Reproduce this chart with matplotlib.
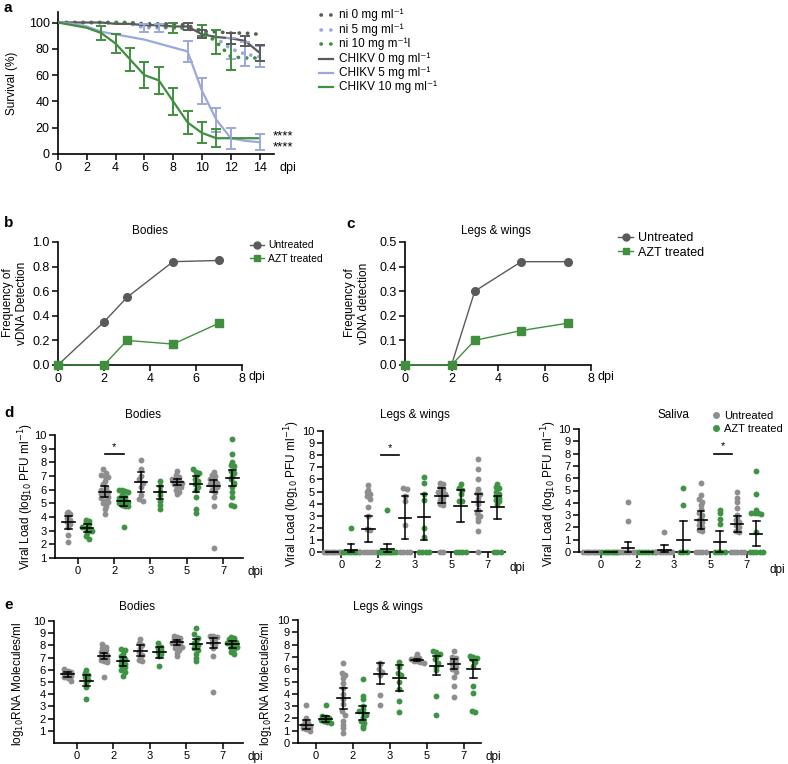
import numpy as np
import matplotlib.pyplot as plt
from matplotlib.lines import Line2D

plt.rcParams['font.family'] = ['Liberation Sans', 'DejaVu Sans']
plt.rcParams['font.size'] = 8

# colours
DARK = '#5a5a5a'
BLUE = '#9ca8dc'
GREEN = '#3f8f3f'
DOT_GRAY = '#8e8e8e'
DOT_GREEN = '#3f9443'

# ---------------- panel a : survival ----------------
days_a = [0, 1, 2, 3, 4, 5, 6, 7, 8, 9, 10, 11, 12, 13, 14]
ni0 = [100, 100, 100, 100, 100, 100, 99, 99, 99, 98, 93, 93, 92, 92, 91]
ni5 = [100, 100, 100, 100, 100, 99, 96, 96, 96, 95, 93, 88, 80, 76, 74]
ni10 = [100, 100, 100, 100, 100, 100, 98, 97, 96, 96, 94, 85, 74, 73, 73]
chikv0 = [100, 100, 100, 100, 99, 99, 98, 98, 97, 97, 91, 89, 88, 86, 77]
chikv5 = [100, 99, 97, 93, 91, 89, 87, 84, 81, 78, 48, 26, 12, 10, 9]
chikv10 = [100, 98, 96, 92, 84, 72, 60, 56, 40, 24, 16, 12, 12, 12, 12]
err_ni0 = [0] * 15
err_ni5 = [0, 0, 0, 0, 0, 0, 3, 3, 0, 0, 0, 0, 8, 9, 8]
err_ni10 = [0, 0, 0, 0, 0, 0, 0, 0, 4, 0, 4, 9, 10, 0, 0]
err_chikv0 = [0, 0, 0, 0, 0, 0, 0, 0, 0, 3, 3, 0, 4, 4, 6]
err_chikv5 = [0, 0, 0, 0, 0, 0, 0, 0, 0, 8, 10, 9, 8, 0, 6]
err_chikv10 = [0, 0, 0, 5, 7, 9, 10, 10, 10, 9, 8, 7, 0, 0, 0]

# ---------------- panels b, c : vDNA frequency ----------------
days_bc = [0, 2, 3, 5, 7]
b_untreated = [0, 0.35, 0.55, 0.84, 0.85]
b_azt = [0, 0, 0.20, 0.17, 0.34]
c_untreated = [0, 0, 0.30, 0.42, 0.42]
c_azt = [0, 0, 0.10, 0.14, 0.17]

# ---------------- panel d : viral load ----------------
dpi_labels = ['0', '2', '3', '5', '7']

d_bodies_un = [
    [4.4, 4.3, 4.2, 3.9, 3.8, 3.6, 3.5, 3.3, 2.7, 2.2],
    [7.5, 7.2, 7.1, 7.0, 6.9, 6.6, 6.4, 6.2, 6.0, 5.9, 5.8, 5.7, 5.6, 5.5, 5.4, 5.2, 5.1, 5.0, 4.8, 4.6, 4.2],
    [8.2, 7.5, 7.0, 6.8, 6.5, 6.2, 5.6, 5.3, 5.2],
    [7.4, 7.1, 6.9, 6.8, 6.7, 6.6, 6.5, 6.4, 6.3, 6.2, 6.0, 5.8, 5.7],
    [7.3, 7.1, 7.0, 6.8, 6.7, 6.5, 6.4, 6.3, 6.2, 6.0, 5.8, 5.5, 4.8, 1.7]]
d_bodies_azt = [
    [3.8, 3.7, 3.6, 3.5, 3.3, 3.2, 3.1, 3.0, 2.8, 2.6, 2.4],
    [6.0, 6.0, 5.9, 5.8, 5.6, 5.5, 5.4, 5.3, 5.2, 5.1, 5.0, 4.9, 4.8, 4.8, 3.3],
    [6.6, 6.3, 5.9, 5.6, 5.2, 4.9, 4.6],
    [7.5, 7.3, 7.2, 7.0, 6.8, 6.6, 6.4, 6.2, 6.0, 5.5, 4.6, 4.3],
    [9.7, 8.6, 8.0, 7.8, 7.7, 7.4, 7.2, 7.0, 6.8, 6.5, 6.2, 5.8, 5.5, 4.9, 4.8]]
d_bodies_mean_un = [3.6, 5.85, 6.55, 6.55, 6.25]
d_bodies_err_un = [0.45, 0.4, 0.75, 0.2, 0.45]
d_bodies_mean_azt = [3.2, 5.15, 5.8, 6.4, 6.85]
d_bodies_err_azt = [0.3, 0.35, 0.45, 0.6, 0.6]

d_legs_un = [
    [0, 0, 0, 0, 0, 0, 0, 0],
    [5.5, 5.1, 5.0, 4.8, 4.6, 4.4, 3.7, 3.0, 1.9, 1.8, 0, 0, 0, 0, 0, 0],
    [5.3, 5.2, 4.6, 4.2, 2.2, 0, 0, 0, 0],
    [5.7, 5.6, 5.4, 5.2, 5.0, 4.9, 4.8, 4.7, 4.5, 4.3, 4.1, 4.0, 3.9, 0, 0],
    [7.7, 6.9, 6.0, 5.2, 4.9, 4.8, 4.5, 4.2, 4.0, 3.5, 3.2, 3.0, 2.8, 2.6, 1.7, 0]]
d_legs_azt = [
    [2.0, 0, 0, 0, 0, 0, 0, 0],
    [3.5, 0, 0, 0, 0, 0, 0, 0, 0, 0],
    [6.2, 5.7, 4.8, 4.3, 2.0, 1.2, 0, 0, 0, 0],
    [5.6, 5.3, 5.1, 4.8, 4.2, 4.2, 0, 0, 0, 0],
    [5.6, 5.4, 5.3, 5.0, 4.8, 4.6, 4.5, 4.3, 4.2, 4.0, 0, 0, 0]]
d_legs_mean_un = [0, 1.9, 2.85, 4.65, 4.1]
d_legs_err_un = [0, 1.05, 1.75, 0.6, 0.7]
d_legs_mean_azt = [0.2, 0.25, 2.9, 3.8, 3.7]
d_legs_err_azt = [0.45, 0.45, 1.9, 1.3, 0.95]

d_sal_un = [
    [0, 0, 0, 0, 0, 0, 0, 0],
    [4.1, 2.5, 0, 0, 0, 0, 0, 0],
    [1.65, 0, 0, 0, 0, 0, 0],
    [5.6, 4.6, 4.3, 4.1, 3.8, 3.5, 3.2, 3.0, 2.8, 2.6, 2.4, 2.2, 2.0, 1.8, 1.7, 0, 0, 0, 0],
    [4.9, 4.4, 4.1, 3.6, 3.0, 2.8, 2.6, 2.4, 2.2, 2.0, 1.7, 1.6, 0, 0, 0, 0, 0]]
d_sal_azt = [
    [0, 0, 0, 0, 0, 0, 0, 0],
    [0, 0, 0, 0, 0, 0],
    [5.2, 3.8, 0, 0, 0],
    [3.4, 3.2, 2.7, 2.3, 0, 0, 0, 0],
    [6.6, 4.7, 3.4, 3.2, 3.2, 3.2, 3.1, 1.6, 0, 0, 0, 0, 0]]
d_sal_mean_un = [0, 0.35, 0.2, 2.6, 2.25]
d_sal_err_un = [0, 0.5, 0.4, 0.7, 0.65]
d_sal_mean_azt = [0, 0, 1.0, 0.85, 1.5]
d_sal_err_azt = [0, 0, 1.5, 0.85, 1.0]

# ---------------- panel e : RNA ----------------
e_bodies_un = [
    [6.1, 5.9, 5.8, 5.7, 5.6, 5.5, 5.4, 5.3, 5.1],
    [8.1, 7.9, 7.8, 7.6, 7.5, 7.3, 7.2, 7.1, 7.0, 6.9, 6.8, 6.7, 6.6, 5.4],
    [8.5, 8.2, 8.0, 7.8, 7.5, 7.2, 7.0, 6.8, 6.7],
    [8.8, 8.7, 8.6, 8.5, 8.4, 8.3, 8.2, 8.1, 8.0, 7.9, 7.8, 7.6, 7.4, 7.1],
    [8.8, 8.8, 8.7, 8.5, 8.3, 8.2, 8.0, 7.8, 7.1, 4.2]]
e_bodies_azt = [
    [6.0, 5.7, 5.6, 5.4, 5.2, 4.9, 4.6, 3.6],
    [7.7, 7.6, 7.3, 7.1, 6.9, 6.7, 6.5, 6.4, 6.2, 6.0, 5.8, 5.5],
    [8.2, 7.9, 7.8, 7.6, 7.5, 7.3, 7.1, 6.3],
    [9.4, 8.9, 8.6, 8.4, 8.2, 8.0, 7.8, 7.6, 7.3, 7.0, 6.7],
    [8.7, 8.6, 8.5, 8.4, 8.3, 8.2, 8.1, 8.0, 7.9, 7.8, 7.7, 7.5, 7.3]]
e_bodies_mean_un = [5.65, 7.15, 7.55, 8.25, 8.2]
e_bodies_err_un = [0.2, 0.25, 0.45, 0.2, 0.4]
e_bodies_mean_azt = [5.1, 6.7, 7.45, 8.1, 8.1]
e_bodies_err_azt = [0.45, 0.35, 0.45, 0.4, 0.3]

e_legs_un = [
    [3.1, 2.0, 1.8, 1.6, 1.5, 1.4, 1.3, 1.2, 1.1, 1.0],
    [6.5, 5.7, 5.5, 5.3, 4.9, 4.5, 4.0, 3.6, 3.2, 2.6, 2.3, 1.8, 1.5, 1.2, 0.8],
    [6.5, 6.4, 6.0, 5.8, 5.5, 3.9, 3.1],
    [7.2, 7.0, 6.9, 6.8, 6.7, 6.7, 6.6, 6.5],
    [7.5, 7.0, 6.9, 6.7, 6.5, 6.4, 6.2, 6.0, 5.8, 5.4, 4.6, 3.7]]
e_legs_azt = [
    [3.1, 2.2, 2.1, 2.0, 1.9, 1.8, 1.7, 1.6],
    [5.2, 3.8, 3.6, 3.0, 2.8, 2.6, 2.5, 2.3, 2.1, 1.8, 1.6, 1.4, 1.2],
    [6.6, 6.2, 5.7, 5.5, 5.0, 4.4, 3.4, 2.5],
    [7.5, 7.4, 7.2, 7.0, 6.8, 6.5, 6.2, 5.9, 3.8, 2.3],
    [7.1, 7.0, 6.9, 6.8, 6.6, 6.3, 4.6, 4.1, 2.6, 2.5]]
e_legs_mean_un = [1.5, 3.65, 5.65, 6.75, 6.4]
e_legs_err_un = [0.4, 0.85, 0.85, 0.1, 0.4]
e_legs_mean_azt = [1.95, 2.45, 5.3, 6.3, 6.0]
e_legs_err_azt = [0.25, 0.55, 1.05, 0.8, 0.75]

# ---------------- figure helpers ----------------
W, H = 788, 764
fig = plt.figure(figsize=(W / 100, H / 100), dpi=100)


def add_ax(l, t, r, b, fs=8.5):
    ax = fig.add_axes([l / W, 1 - b / H, (r - l) / W, (b - t) / H])
    for s in ['top', 'right']:
        ax.spines[s].set_visible(False)
    for s in ['left', 'bottom']:
        ax.spines[s].set_linewidth(1.2)
    ax.tick_params(width=1.1, length=4, labelsize=fs, pad=2)
    return ax


def ftext(x, y, s, **kw):
    fig.text(x / W, 1 - y / H, s, **kw)


def fline(x0, x1, y, **kw):
    fig.add_artist(Line2D([x0 / W, x1 / W], [1 - y / H, 1 - y / H], transform=fig.transFigure, **kw))


def swarm(vals, center, dx=0.09, ybin=0.35, wmax=0.22):
    # simple deterministic beeswarm offsets
    vals = np.asarray(vals, dtype=float)
    xs = np.full(len(vals), center, dtype=float)
    keys = np.round(vals / ybin)
    for k in np.unique(keys):
        idx = np.where(keys == k)[0]
        n = len(idx)
        if n > 1:
            w = min((n - 1) * dx / 2, wmax)
            xs[idx] = center + np.linspace(-w, w, n)
    return xs, vals


def dot_panel(ax, un, azt, m_un, e_un, m_azt, e_azt, off=0.26):
    for i in range(5):
        for vals, c, sgn in [(un[i], DOT_GRAY, -1), (azt[i], DOT_GREEN, 1)]:
            xs, ys = swarm(vals, i + sgn * off)
            ax.scatter(xs, ys, s=18, color=c, lw=0, zorder=3, clip_on=False)
        for m, e, sgn in [(m_un[i], e_un[i], -1), (m_azt[i], e_azt[i], 1)]:
            x0 = i + sgn * off
            ax.plot([x0 - 0.17, x0 + 0.17], [m, m], color='black', lw=1.2, zorder=4, clip_on=False)
            if e > 0:
                lo, hi = max(m - e, 0), m + e
                ax.plot([x0, x0], [lo, hi], color='black', lw=1.1, zorder=4, clip_on=False)
                for yy in (lo, hi):
                    ax.plot([x0 - 0.09, x0 + 0.09], [yy, yy], color='black', lw=1.1, zorder=4, clip_on=False)
    ax.set_xticks(range(5))
    ax.set_xticklabels(dpi_labels)
    ax.tick_params(labelsize=8)


# ---------------- a ----------------
ax = add_ax(58, 12, 274, 154, fs=9)
dotted = (0, (0.1, 2.2))
for vals, err, c in [(ni0, err_ni0, DARK), (ni5, err_ni5, BLUE), (ni10, err_ni10, GREEN)]:
    ax.plot(days_a, vals, color=c, lw=2.6, ls=dotted, dash_capstyle='round', zorder=2)
for vals, err, c in [(chikv0, err_chikv0, DARK), (chikv5, err_chikv5, BLUE), (chikv10, err_chikv10, GREEN)]:
    ax.plot(days_a, vals, color=c, lw=1.6, zorder=3)
for vals, err, c in [(ni5, err_ni5, BLUE), (ni10, err_ni10, GREEN), (chikv0, err_chikv0, DARK),
                     (chikv5, err_chikv5, BLUE), (chikv10, err_chikv10, GREEN)]:
    d = np.array(days_a)
    v = np.array(vals)
    e = np.array(err)
    m = e > 0
    ax.errorbar(d[m], v[m], yerr=e[m], fmt='none', ecolor=c, elinewidth=1.4, capsize=3.5, capthick=1.4, zorder=3)
ax.set_xlim(0, 15)
ax.set_ylim(0, 108)
ax.set_xticks([0, 2, 4, 6, 8, 10, 12, 14])
ax.set_yticks([0, 20, 40, 60, 80, 100])
ftext(12, 83, 'Survival (%)', rotation=90, ha='center', va='center', fontsize=8.5)
ftext(279, 168, 'dpi', fontsize=9, va='center')
ftext(273, 142, '****\n****', fontsize=9.5, va='center', linespacing=0.85)

# legend of a, drawn row by row
leg_colors = [DARK, BLUE, GREEN, DARK, BLUE, GREEN]
leg_labels = ['ni 0 mg ml⁻¹', 'ni 5 mg ml⁻¹', 'ni 10 mg m⁻¹l',
              'CHIKV 0 mg ml⁻¹', 'CHIKV 5 mg ml⁻¹', 'CHIKV 10 mg ml⁻¹']
leg_rows = [15, 30, 44, 59, 73, 87]
for k in range(6):
    y = leg_rows[k]
    if k < 3:
        fline(321, 331, y, color=leg_colors[k], lw=2.6, ls=(0, (0.1, 2.6)), dash_capstyle='round')
    else:
        fline(319, 333, y, color=leg_colors[k], lw=1.6)
    ftext(339, y, leg_labels[k], fontsize=8.5, va='center')

# ---------------- b ----------------
ax = add_ax(58, 242, 242, 365, fs=9)
ax.plot(days_bc, b_untreated, '-o', color=DARK, ms=5.5, lw=1, clip_on=False, zorder=3)
ax.plot(days_bc, b_azt, '-s', color=GREEN, ms=5.5, lw=1, clip_on=False, zorder=3)
ax.set_xlim(0, 8)
ax.set_ylim(0, 1.0)
ax.set_xticks([0, 2, 4, 6, 8])
ax.set_yticks([0, 0.2, 0.4, 0.6, 0.8, 1.0])
ax.set_yticklabels(['0.0', '0.2', '0.4', '0.6', '0.8', '1.0'])
ftext(150, 231, 'Bodies', ha='center', va='center', fontsize=8.5)
ftext(15, 303, 'Frequency of\nvDNA Detection', rotation=90, ha='center', va='center', fontsize=8.5)
ftext(249, 377, 'dpi', fontsize=9, va='center')
fig.legend([Line2D([], [], color=DARK, marker='o', ms=5, lw=1),
            Line2D([], [], color=GREEN, marker='s', ms=5, lw=1)],
           ['Untreated', 'AZT treated'], loc='upper left', bbox_to_anchor=(245 / W, 1 - 235 / H),
           frameon=False, fontsize=7.5, handlelength=1.3, handletextpad=0.4, labelspacing=0.35, borderpad=0)

# ---------------- c ----------------
ax = add_ax(405, 242, 591, 365, fs=9)
ax.plot(days_bc, c_untreated, '-o', color=DARK, ms=5.5, lw=1, clip_on=False, zorder=3)
ax.plot(days_bc, c_azt, '-s', color=GREEN, ms=5.5, lw=1, clip_on=False, zorder=3)
ax.set_xlim(0, 8)
ax.set_ylim(0, 0.5)
ax.set_xticks([0, 2, 4, 6, 8])
ax.set_yticks([0, 0.1, 0.2, 0.3, 0.4, 0.5])
ax.set_yticklabels(['0.0', '0.1', '0.2', '0.3', '0.4', '0.5'])
ftext(496, 231, 'Legs & wings', ha='center', va='center', fontsize=8.5)
ftext(357, 303, 'Frequency of\nvDNA detection', rotation=90, ha='center', va='center', fontsize=8.5)
ftext(597, 377, 'dpi', fontsize=9, va='center')
fig.legend([Line2D([], [], color=DARK, marker='o', ms=5, lw=1),
            Line2D([], [], color=GREEN, marker='s', ms=5, lw=1)],
           ['Untreated', 'AZT treated'], loc='upper left', bbox_to_anchor=(612 / W, 1 - 226 / H),
           frameon=False, fontsize=9, handlelength=1.2, handletextpad=0.4, labelspacing=0.2, borderpad=0)

# ---------------- d ----------------
ylab_d = 'Viral Load (log$_{10}$ PFU ml$^{-1}$)'

ax = add_ax(55, 435, 243, 558)
dot_panel(ax, d_bodies_un, d_bodies_azt, d_bodies_mean_un, d_bodies_err_un,
          d_bodies_mean_azt, d_bodies_err_azt)
ax.set_xlim(-0.63, 4.55)
ax.set_ylim(1, 10)
ax.set_yticks(range(1, 11))
ax.plot([0.74, 1.27], [8.6, 8.6], color='black', lw=1.2)
ax.text(1.0, 8.75, '*', ha='center', va='bottom', fontsize=8)
ftext(143, 415, 'Bodies', ha='center', va='center', fontsize=8.5)
ftext(26, 497, ylab_d, rotation=90, ha='center', va='center', fontsize=8.5)
ftext(247, 572, 'dpi', fontsize=8.5, va='center')

ax = add_ax(323, 431, 505, 552)
dot_panel(ax, d_legs_un, d_legs_azt, d_legs_mean_un, d_legs_err_un,
          d_legs_mean_azt, d_legs_err_azt)
ax.set_xlim(-0.5, 4.47)
ax.set_ylim(0, 10)
ax.set_yticks(range(0, 11))
ax.plot([1.08, 1.58], [8.0, 8.0], color='black', lw=1.2)
ax.text(1.33, 8.2, '*', ha='center', va='bottom', fontsize=8)
ftext(415, 415, 'Legs & wings', ha='center', va='center', fontsize=8.5)
ftext(292, 494, ylab_d, rotation=90, ha='center', va='center', fontsize=8.5)
ftext(509, 568, 'dpi', fontsize=8.5, va='center')

ax = add_ax(579, 429, 765, 552)
dot_panel(ax, d_sal_un, d_sal_azt, d_sal_mean_un, d_sal_err_un,
          d_sal_mean_azt, d_sal_err_azt)
ax.set_xlim(-0.6, 4.5)
ax.set_ylim(0, 10)
ax.set_yticks(range(0, 11))
ax.plot([3.1, 3.6], [8.0, 8.0], color='black', lw=1.2)
ax.text(3.35, 8.2, '*', ha='center', va='bottom', fontsize=8)
ftext(673, 415, 'Saliva', ha='center', va='center', fontsize=8.5)
ftext(549, 494, ylab_d, rotation=90, ha='center', va='center', fontsize=8.5)
ftext(769, 570, 'dpi', fontsize=8.5, va='center')
fig.legend([Line2D([], [], color=DOT_GRAY, marker='o', ms=4, lw=0),
            Line2D([], [], color=DOT_GREEN, marker='o', ms=4, lw=0)],
           ['Untreated', 'AZT treated'], loc='upper left', bbox_to_anchor=(707 / W, 1 - 405 / H),
           frameon=False, fontsize=8, handlelength=0.6, handletextpad=0.4, labelspacing=0.3, borderpad=0)

# ---------------- e ----------------
ylab_e = 'log$_{10}$RNA Molecules/ml'

ax = add_ax(54, 621, 243, 743)
dot_panel(ax, e_bodies_un, e_bodies_azt, e_bodies_mean_un, e_bodies_err_un,
          e_bodies_mean_azt, e_bodies_err_azt)
ax.set_xlim(-0.63, 4.55)
ax.set_ylim(0, 10)
ax.set_yticks(range(1, 11))
ftext(137, 607, 'Bodies', ha='center', va='center', fontsize=8.5)
ftext(18, 684, ylab_e, rotation=90, ha='center', va='center', fontsize=8.5)
ftext(247, 757, 'dpi', fontsize=8.5, va='center')

ax = add_ax(298, 620, 481, 743)
dot_panel(ax, e_legs_un, e_legs_azt, e_legs_mean_un, e_legs_err_un,
          e_legs_mean_azt, e_legs_err_azt)
ax.set_xlim(-0.49, 4.47)
ax.set_ylim(0, 10)
ax.set_yticks(range(0, 11))
ftext(388, 607, 'Legs & wings', ha='center', va='center', fontsize=8.5)
ftext(266, 684, ylab_e, rotation=90, ha='center', va='center', fontsize=8.5)
ftext(486, 757, 'dpi', fontsize=8.5, va='center')

# panel letters
for x, y, s in [(4, 8, 'a'), (4, 223, 'b'), (346, 224, 'c'), (4, 413, 'd'), (4, 605, 'e')]:
    ftext(x, y, s, fontsize=11, fontweight='bold', va='center')

fig.savefig('out.png', dpi=100)
